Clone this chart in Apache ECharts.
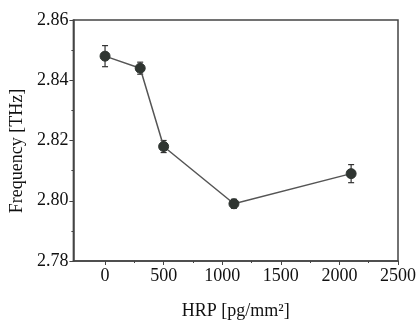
<!DOCTYPE html>
<html>
<head>
<meta charset="utf-8">
<script src="https://cdn.jsdelivr.net/npm/echarts@6/dist/echarts.min.js"></script>
<style>
html,body{margin:0;padding:0;background:#fff;}
#chart{width:419px;height:325px;}
</style>
</head>
<body>
<div id="chart"></div>
<script>
// HRP loading vs resonance frequency
var hrp = [0, 300, 500, 1100, 2100];
var freq = [2.848, 2.844, 2.818, 2.799, 2.809];
var err = [0.0035, 0.002, 0.002, 0.0015, 0.003];
var xTicks = [0, 500, 1000, 1500, 2000, 2500];
var xMinor = [250, 750, 1250, 1750, 2250];

var pts = [], bars = [];
for (var i = 0; i < hrp.length; i++) {
	pts.push([hrp[i], freq[i]]);
	bars.push([hrp[i], freq[i] - err[i], freq[i] + err[i]]);
}

var font = 'Liberation Serif';
var myChart = echarts.init(document.getElementById('chart'));
var option = {
	backgroundColor: '#fff',
	animation: false,
	grid: {
		left: 73, right: 19, top: 20, bottom: 60,
		show: true, borderColor: '#444', borderWidth: 1.5
	},
	xAxis: [{
		type: 'value', min: -270, max: 2500,
		name: 'HRP [pg/mm²]', nameLocation: 'middle', nameGap: 41,
		nameTextStyle: {fontFamily: font, fontSize: 18, color: '#111'},
		axisLine: {onZero: false, lineStyle: {color: '#444', width: 1.5}},
		axisTick: {show: true, length: 4, customValues: xTicks, lineStyle: {color: '#444'}},
		axisLabel: {
			customValues: xTicks, fontFamily: font, fontSize: 18, color: '#111', margin: 6,
			formatter: function (v) { return String(v); }
		},
		splitLine: {show: false}
	}, {
		type: 'value', min: -270, max: 2500, position: 'bottom',
		axisLine: {show: false, onZero: false},
		axisTick: {show: true, length: 2, customValues: xMinor, lineStyle: {color: '#444'}},
		axisLabel: {show: false},
		splitLine: {show: false}
	}],
	yAxis: {
		type: 'value', min: 2.78, max: 2.86, interval: 0.02,
		name: 'Frequency [THz]', nameLocation: 'middle', nameGap: 44,
		nameTextStyle: {fontFamily: font, fontSize: 18, color: '#111', padding: [0, 21, 0, 0]},
		axisLine: {show: true, onZero: false, lineStyle: {color: '#444', width: 1.5}},
		axisTick: {show: true, length: 4, lineStyle: {color: '#444'}},
		minorTick: {show: true, splitNumber: 2, length: 2, lineStyle: {color: '#444'}},
		axisLabel: {
			fontFamily: font, fontSize: 18, color: '#111', margin: 5,
			formatter: function (v) { return v.toFixed(2); }
		},
		splitLine: {show: false}
	},
	series: [{
		type: 'custom',
		data: bars,
		z: 3,
		renderItem: function (params, api) {
			var x = api.value(0);
			var lo = api.coord([x, api.value(1)]);
			var hi = api.coord([x, api.value(2)]);
			var w = 3;
			var st = {stroke: '#333', lineWidth: 1.2};
			return {
				type: 'group',
				children: [
					{type: 'line', shape: {x1: lo[0], y1: lo[1], x2: hi[0], y2: hi[1]}, style: st},
					{type: 'line', shape: {x1: lo[0] - w, y1: lo[1], x2: lo[0] + w, y2: lo[1]}, style: st},
					{type: 'line', shape: {x1: hi[0] - w, y1: hi[1], x2: hi[0] + w, y2: hi[1]}, style: st}
				]
			};
		}
	}, {
		type: 'line',
		data: pts,
		z: 4,
		symbol: 'circle',
		symbolSize: 10,
		lineStyle: {color: '#555', width: 1.5},
		itemStyle: {color: '#2f3531', borderColor: '#2f3531'}
	}]
};
myChart.setOption(option);
</script>
</body>
</html>
